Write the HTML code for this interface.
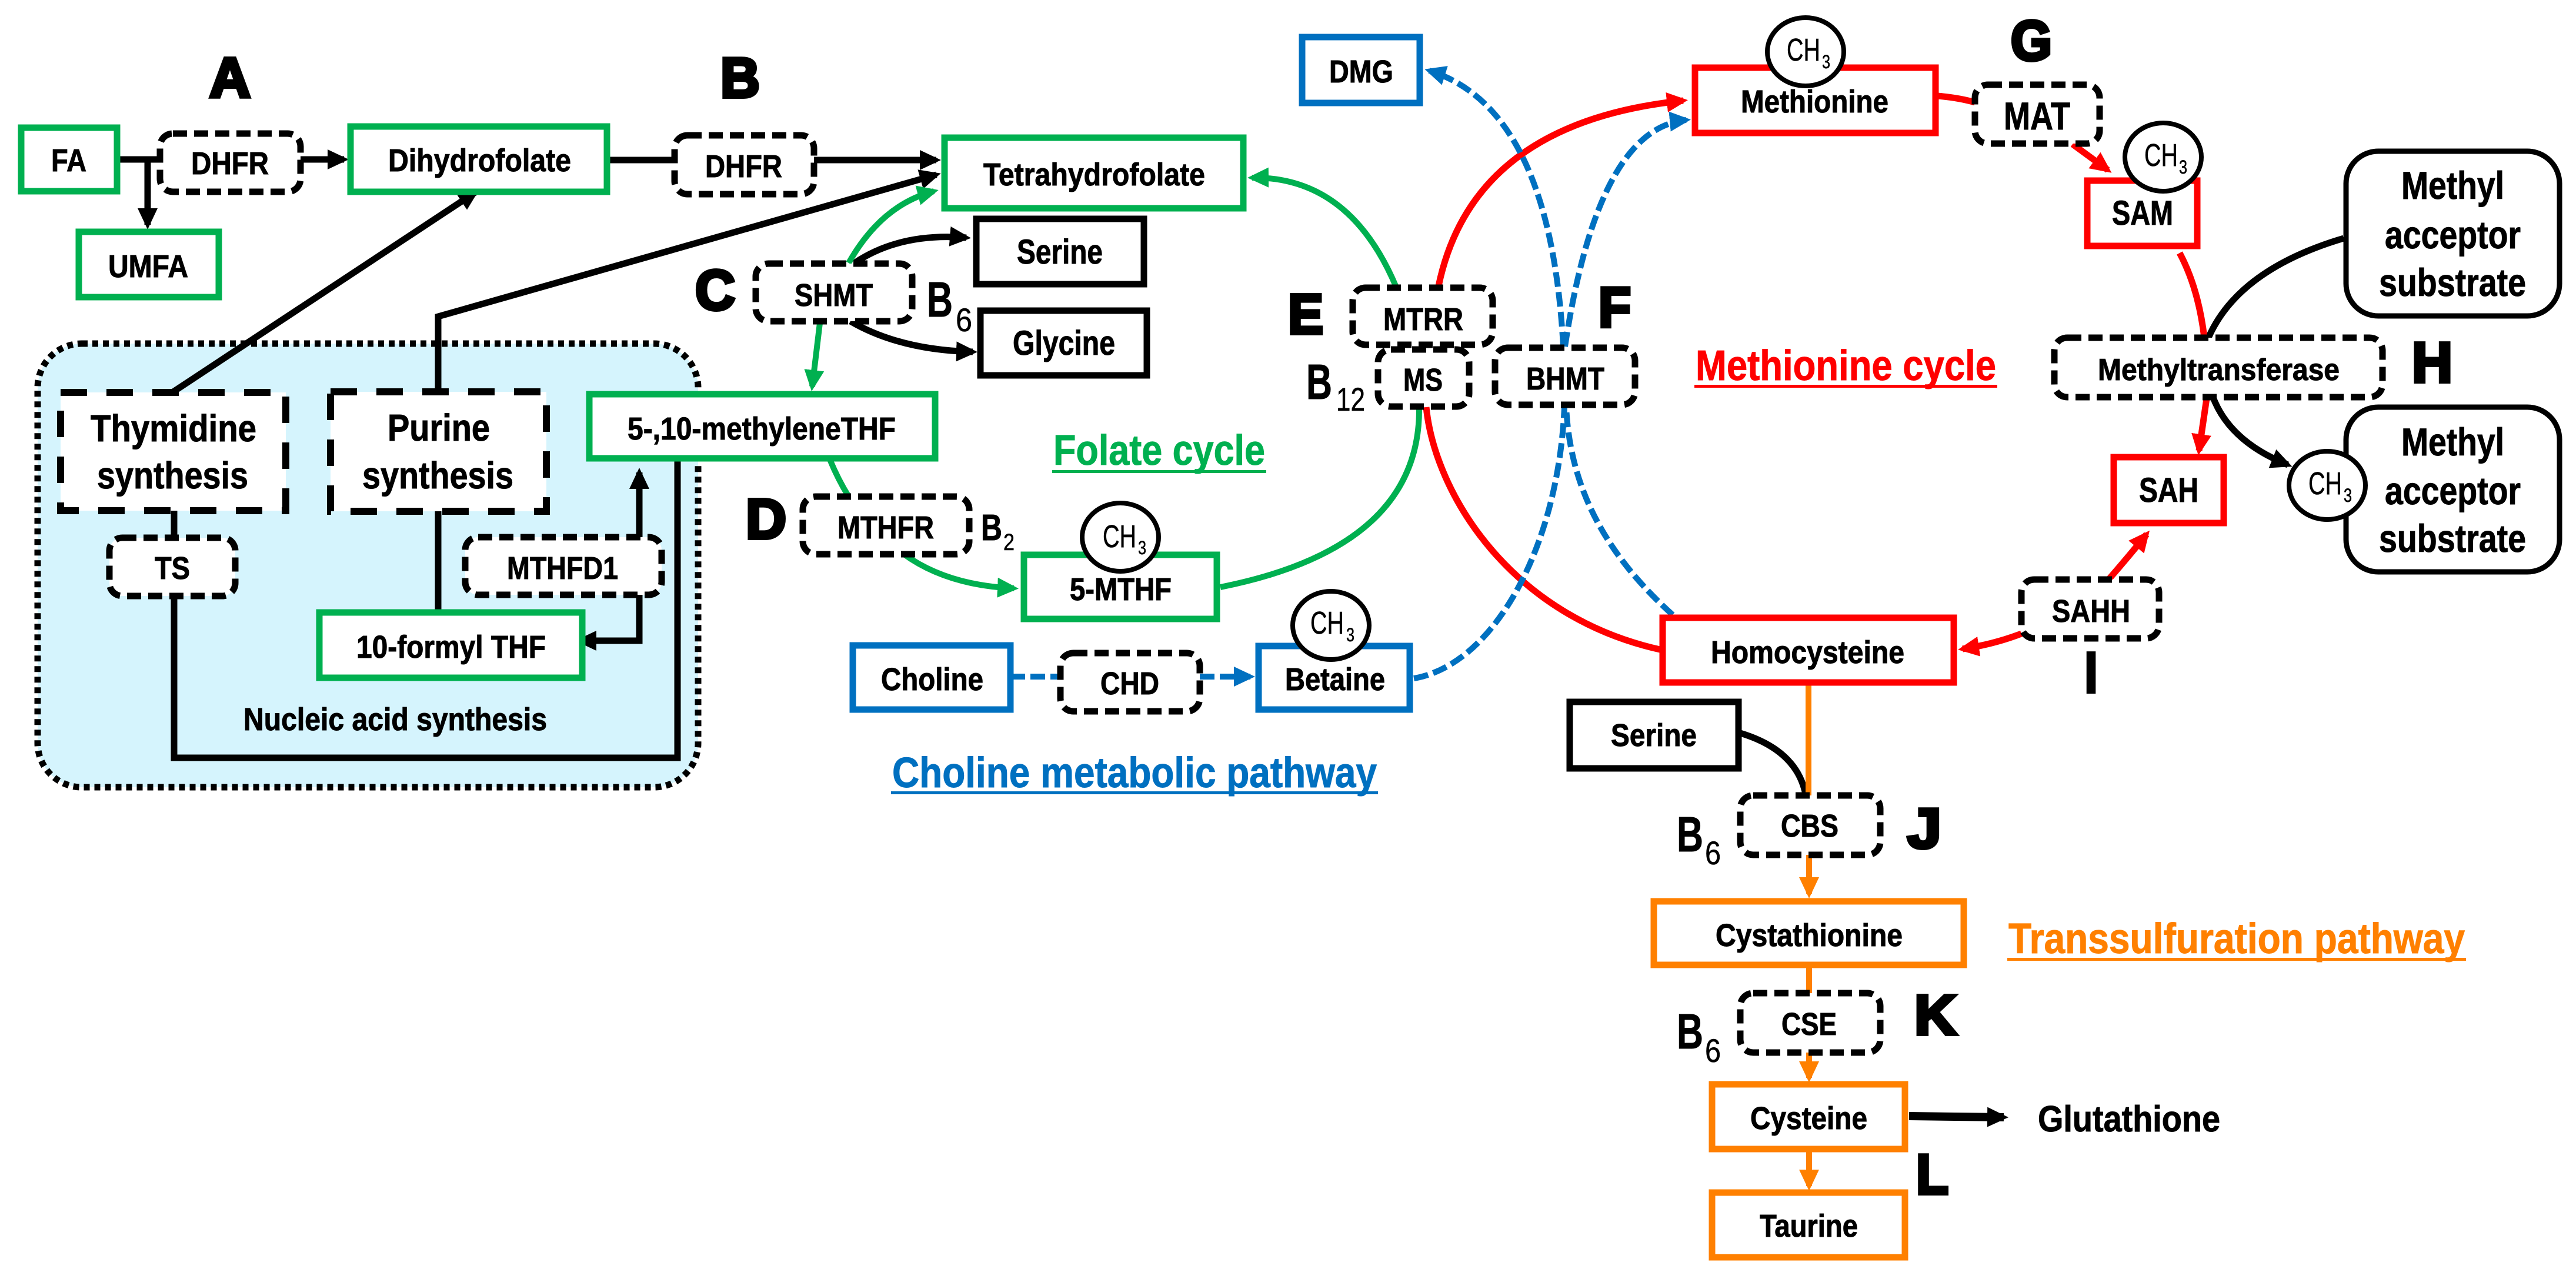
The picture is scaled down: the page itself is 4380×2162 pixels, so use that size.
<!DOCTYPE html>
<html><head><meta charset="utf-8">
<style>
html,body{margin:0;padding:0;background:#fff}
svg{display:block}
text{font-family:"Liberation Sans",sans-serif;font-weight:bold;fill:#000;stroke:#000;stroke-width:1}
text.h{stroke:#000;stroke-width:6px}
text.n{font-weight:normal;stroke-width:.6}
.k{stroke:#000;fill:none;stroke-width:11}
.g{stroke:#00b050;fill:none;stroke-width:10}
.r{stroke:#f00;fill:none;stroke-width:11}
.b{stroke:#0070c0;fill:none;stroke-width:10;stroke-dasharray:25 9}
.o{stroke:#ff8000;fill:none;stroke-width:10}
.bx{fill:#fff;stroke-width:11}
.d{fill:#fff;stroke:#000;stroke-width:11;stroke-dasharray:24 12}
.D{fill:#fff;stroke:#000;stroke-width:12;stroke-dasharray:45 33}
.c{fill:#fff;stroke:#000;stroke-width:8}
</style></head><body>
<svg width="4380" height="2162" viewBox="0 0 4380 2162" xmlns="http://www.w3.org/2000/svg">
<defs>
<marker id="ak" markerUnits="userSpaceOnUse" markerWidth="44" markerHeight="40" refX="28" refY="20" orient="auto"><path d="M0,3L36,20L0,37z" fill="#000"/></marker>
<marker id="ag" markerUnits="userSpaceOnUse" markerWidth="44" markerHeight="40" refX="28" refY="20" orient="auto"><path d="M0,3L36,20L0,37z" fill="#00b050"/></marker>
<marker id="ar" markerUnits="userSpaceOnUse" markerWidth="44" markerHeight="40" refX="28" refY="20" orient="auto"><path d="M0,3L36,20L0,37z" fill="#f00"/></marker>
<marker id="ab" markerUnits="userSpaceOnUse" markerWidth="44" markerHeight="40" refX="28" refY="20" orient="auto"><path d="M0,3L36,20L0,37z" fill="#0070c0"/></marker>
<marker id="ao" markerUnits="userSpaceOnUse" markerWidth="44" markerHeight="40" refX="28" refY="20" orient="auto"><path d="M0,3L36,20L0,37z" fill="#ff8000"/></marker>
</defs>

<!-- region -->
<rect x="64" y="584" width="1123" height="754" rx="75" ry="75" fill="#d5f4fd" stroke="#000" stroke-width="11" stroke-dasharray="10 8"/>

<!-- black connectors -->
<path class="k" d="M198,271H272"/>
<path class="k" d="M251,271V382" marker-end="url(#ak)"/>
<path class="k" d="M511,271H585" marker-end="url(#ak)"/>
<path class="k" d="M1032,272H1147"/>
<path class="k" d="M1384,272H1592" marker-end="url(#ak)"/>
<path class="k" d="M293,667L808,327" marker-end="url(#ak)"/>
<path class="k" d="M745,666V538L1592,297" marker-end="url(#ak)"/>
<path class="k" d="M1453,447Q1530,395 1643,404" marker-end="url(#ak)"/>
<path class="k" d="M1446,546Q1530,595 1654,598" marker-end="url(#ak)"/>
<path class="k" d="M296,868V914"/>
<path class="k" d="M745,869V1041"/>
<path class="k" d="M296,1013V1288H1152V781"/>
<path class="k" d="M1087,913V803" marker-end="url(#ak)"/>
<path class="k" d="M1087,1011V1089H986" marker-end="url(#ak)"/>
<path class="k" d="M3985,405Q3806,458 3755,574"/>
<path class="k" d="M3762,673Q3790,750 3890,790" marker-end="url(#ak)"/>
<path class="k" d="M2959,1246Q3055,1275 3070,1350"/>
<path class="k" style="stroke-width:14" d="M3246,1897L3407,1899" marker-end="url(#ak)"/>

<!-- green -->
<path class="g" d="M1443,447Q1499,348 1588,325" marker-end="url(#ag)"/>
<path class="g" d="M1394,549L1381,657" marker-end="url(#ag)"/>
<path class="g" d="M1411,781Q1425,815 1443,844"/>
<path class="g" d="M1537,942Q1610,995 1724,1000" marker-end="url(#ag)"/>
<path class="g" d="M2075,998Q2416,930 2413,692"/>
<path class="g" d="M2374,488Q2295,300 2129,302" marker-end="url(#ag)"/>

<!-- red -->
<path class="r" d="M2446,486Q2504,208 2862,171" marker-end="url(#ar)"/>
<path class="r" d="M2425,692C2440,840 2570,1050 2827,1105"/>
<path class="r" d="M3294,163Q3330,166 3358,174"/>
<path class="r" d="M3524,245L3584,289" marker-end="url(#ar)"/>
<path class="r" d="M3706,430Q3738,490 3748,574"/>
<path class="r" d="M3752,677L3739,766" marker-end="url(#ar)"/>
<path class="r" d="M3587,983Q3620,945 3650,908" marker-end="url(#ar)"/>
<path class="r" d="M3437,1077Q3390,1095 3337,1103" marker-end="url(#ar)"/>

<!-- blue dashed -->
<path class="b" d="M1718,1150H1803"/>
<path class="b" d="M2040,1150H2126" marker-end="url(#ab)"/>
<path class="b" d="M2404,1153C2540,1130 2650,930 2660,691"/>
<path class="b" d="M2661,589Q2717,218 2867,204" marker-end="url(#ab)"/>
<path class="b" d="M2844,1045C2750,960 2670,850 2663,691"/>
<path class="b" d="M2658,589Q2636,184 2430,120" marker-end="url(#ab)"/>

<!-- orange -->
<path class="o" d="M3075,1161V1352"/>
<path class="o" d="M3076,1452V1519" marker-end="url(#ao)"/>
<path class="o" d="M3076,1640V1688"/>
<path class="o" d="M3076,1789V1832" marker-end="url(#ao)"/>
<path class="o" d="M3076,1953V2016" marker-end="url(#ao)"/>

<!-- green boxes -->
<g stroke="#00b050">
<rect class="bx" x="36" y="217" width="163" height="108"/>
<rect class="bx" x="596" y="215" width="436" height="111"/>
<rect class="bx" x="1606" y="234" width="508" height="120"/>
<rect class="bx" x="134" y="394" width="238" height="111"/>
<rect class="bx" x="1002" y="670" width="588" height="109"/>
<rect class="bx" x="543" y="1041" width="447" height="111"/>
<rect class="bx" x="1741" y="943" width="328" height="109"/>
</g>
<!-- black boxes -->
<g stroke="#000">
<rect class="bx" x="1660" y="372" width="285" height="111"/>
<rect class="bx" x="1667" y="528" width="283" height="110"/>
<rect class="bx" x="2669" y="1193" width="287" height="113"/>
<rect class="bx" style="stroke-width:9" x="3989" y="257" width="363" height="280" rx="55"/>
<rect class="bx" style="stroke-width:9" x="3989" y="692" width="363" height="280" rx="55"/>
</g>
<!-- blue boxes -->
<g stroke="#0070c0">
<rect class="bx" x="1450" y="1097" width="268" height="109"/>
<rect class="bx" x="2140" y="1098" width="257" height="108"/>
<rect class="bx" x="2214" y="63" width="200" height="112"/>
</g>
<!-- red boxes -->
<g stroke="#f00">
<rect class="bx" x="2882" y="115" width="409" height="111"/>
<rect class="bx" x="3549" y="307" width="187" height="111"/>
<rect class="bx" x="3594" y="777" width="187" height="112"/>
<rect class="bx" x="2827" y="1050" width="495" height="110"/>
</g>
<!-- orange boxes -->
<g stroke="#ff8000">
<rect class="bx" x="2812" y="1532" width="527" height="108"/>
<rect class="bx" x="2911" y="1843" width="328" height="110"/>
<rect class="bx" x="2911" y="2027" width="328" height="110"/>
</g>

<!-- dashed boxes -->
<rect class="d" x="272" y="227" width="239" height="99" rx="22"/>
<rect class="d" x="1147" y="230" width="237" height="100" rx="22"/>
<rect class="d" x="1285" y="448" width="266" height="98" rx="22"/>
<rect class="D" x="103" y="667" width="383" height="201"/>
<rect class="D" x="562" y="666" width="367" height="203"/>
<rect class="d" x="186" y="914" width="214" height="99" rx="22"/>
<rect class="d" x="791" y="913" width="334" height="98" rx="22"/>
<rect class="d" x="1365" y="844" width="283" height="98" rx="22"/>
<rect class="d" x="1803" y="1110" width="237" height="99" rx="22"/>
<rect class="d" x="2300" y="489" width="238" height="97" rx="22"/>
<rect class="d" x="2343" y="594" width="155" height="97" rx="22"/>
<rect class="d" x="2542" y="591" width="238" height="97" rx="22"/>
<rect class="d" x="3358" y="144" width="212" height="100" rx="22"/>
<rect class="d" x="3493" y="574" width="558" height="101" rx="22"/>
<rect class="d" x="3437" y="985" width="234" height="100" rx="22"/>
<rect class="d" x="2959" y="1352" width="238" height="101" rx="22"/>
<rect class="d" x="2959" y="1688" width="238" height="101" rx="22"/>

<!-- CH3 circles -->
<ellipse class="c" cx="1905" cy="913" rx="65" ry="58"/>
<ellipse class="c" cx="3070" cy="88" rx="65" ry="58"/>
<ellipse class="c" cx="3678" cy="267" rx="65" ry="58"/>
<ellipse class="c" cx="3957" cy="825" rx="65" ry="58"/>
<ellipse class="c" cx="2263" cy="1063" rx="65" ry="58"/>
<g font-size="54">
<text class="n" x="1875" y="930" textLength="57" lengthAdjust="spacingAndGlyphs">CH</text>
<text class="n" x="1935" y="942" font-size="32" textLength="14" lengthAdjust="spacingAndGlyphs">3</text>
<text class="n" x="3038" y="103" textLength="57" lengthAdjust="spacingAndGlyphs">CH</text>
<text class="n" x="3098" y="116" font-size="32" textLength="14" lengthAdjust="spacingAndGlyphs">3</text>
<text class="n" x="3646" y="282" textLength="57" lengthAdjust="spacingAndGlyphs">CH</text>
<text class="n" x="3705" y="295" font-size="32" textLength="14" lengthAdjust="spacingAndGlyphs">3</text>
<text class="n" x="3925" y="840" textLength="57" lengthAdjust="spacingAndGlyphs">CH</text>
<text class="n" x="3985" y="853" font-size="32" textLength="14" lengthAdjust="spacingAndGlyphs">3</text>
<text class="n" x="2228" y="1077" textLength="57" lengthAdjust="spacingAndGlyphs">CH</text>
<text class="n" x="2289" y="1090" font-size="32" textLength="14" lengthAdjust="spacingAndGlyphs">3</text>
</g>

<!-- node labels -->
<g font-size="54">
<text x="87" y="291" textLength="60" lengthAdjust="spacingAndGlyphs">FA</text>
<text x="325" y="296" textLength="132" lengthAdjust="spacingAndGlyphs">DHFR</text>
<text x="660" y="291" textLength="311" lengthAdjust="spacingAndGlyphs">Dihydrofolate</text>
<text x="184" y="471" textLength="136" lengthAdjust="spacingAndGlyphs">UMFA</text>
<text x="1199" y="301" textLength="131" lengthAdjust="spacingAndGlyphs">DHFR</text>
<text x="1672" y="315" textLength="377" lengthAdjust="spacingAndGlyphs">Tetrahydrofolate</text>
<text x="1729" y="448" font-size="58" textLength="146" lengthAdjust="spacingAndGlyphs">Serine</text>
<text x="1722" y="603" font-size="58" textLength="174" lengthAdjust="spacingAndGlyphs">Glycine</text>
<text x="1351" y="520" textLength="133" lengthAdjust="spacingAndGlyphs">SHMT</text>
<text x="1067" y="747" textLength="456" lengthAdjust="spacingAndGlyphs">5-,10-methyleneTHF</text>
<text x="154" y="750" font-size="64" textLength="282" lengthAdjust="spacingAndGlyphs">Thymidine</text>
<text x="165" y="830" font-size="64" textLength="257" lengthAdjust="spacingAndGlyphs">synthesis</text>
<text x="659" y="749" font-size="64" textLength="174" lengthAdjust="spacingAndGlyphs">Purine</text>
<text x="616" y="830" font-size="64" textLength="257" lengthAdjust="spacingAndGlyphs">synthesis</text>
<text x="263" y="984" textLength="60" lengthAdjust="spacingAndGlyphs">TS</text>
<text x="862" y="984" textLength="189" lengthAdjust="spacingAndGlyphs">MTHFD1</text>
<text x="606" y="1118" textLength="322" lengthAdjust="spacingAndGlyphs">10-formyl THF</text>
<text x="414" y="1241" textLength="516" lengthAdjust="spacingAndGlyphs">Nucleic acid synthesis</text>
<text x="1424" y="915" textLength="164" lengthAdjust="spacingAndGlyphs">MTHFR</text>
<text x="1819" y="1020" textLength="173" lengthAdjust="spacingAndGlyphs">5-MTHF</text>
<text x="1498" y="1173" textLength="174" lengthAdjust="spacingAndGlyphs">Choline</text>
<text x="1871" y="1180" textLength="100" lengthAdjust="spacingAndGlyphs">CHD</text>
<text x="2185" y="1173" textLength="170" lengthAdjust="spacingAndGlyphs">Betaine</text>
<text x="2260" y="140" textLength="109" lengthAdjust="spacingAndGlyphs">DMG</text>
<text x="2960" y="191" textLength="251" lengthAdjust="spacingAndGlyphs">Methionine</text>
<text x="3407" y="220" font-size="66" textLength="113" lengthAdjust="spacingAndGlyphs">MAT</text>
<text x="3591" y="382" font-size="58" textLength="104" lengthAdjust="spacingAndGlyphs">SAM</text>
<text x="3637" y="853" font-size="58" textLength="101" lengthAdjust="spacingAndGlyphs">SAH</text>
<text x="3567" y="646" font-size="52" textLength="411" lengthAdjust="spacingAndGlyphs">Methyltransferase</text>
<text x="2352" y="561" textLength="136" lengthAdjust="spacingAndGlyphs">MTRR</text>
<text x="2386" y="664" textLength="67" lengthAdjust="spacingAndGlyphs">MS</text>
<text x="2595" y="662" textLength="133" lengthAdjust="spacingAndGlyphs">BHMT</text>
<text x="3489" y="1057" textLength="133" lengthAdjust="spacingAndGlyphs">SAHH</text>
<text x="2909" y="1127" textLength="329" lengthAdjust="spacingAndGlyphs">Homocysteine</text>
<text x="2739" y="1268" textLength="146" lengthAdjust="spacingAndGlyphs">Serine</text>
<text x="3028" y="1422" textLength="98" lengthAdjust="spacingAndGlyphs">CBS</text>
<text x="2917" y="1608" textLength="318" lengthAdjust="spacingAndGlyphs">Cystathionine</text>
<text x="3029" y="1759" textLength="94" lengthAdjust="spacingAndGlyphs">CSE</text>
<text x="2976" y="1919" textLength="199" lengthAdjust="spacingAndGlyphs">Cysteine</text>
<text x="2992" y="2102" textLength="167" lengthAdjust="spacingAndGlyphs">Taurine</text>
<text x="3465" y="1923" font-size="62" textLength="310" lengthAdjust="spacingAndGlyphs">Glutathione</text>
</g>
<g font-size="66">
<text x="4083" y="338" textLength="175" lengthAdjust="spacingAndGlyphs">Methyl</text>
<text x="4055" y="422" textLength="231" lengthAdjust="spacingAndGlyphs">acceptor</text>
<text x="4045" y="503" textLength="250" lengthAdjust="spacingAndGlyphs">substrate</text>
<text x="4083" y="774" textLength="175" lengthAdjust="spacingAndGlyphs">Methyl</text>
<text x="4055" y="857" textLength="231" lengthAdjust="spacingAndGlyphs">acceptor</text>
<text x="4045" y="938" textLength="250" lengthAdjust="spacingAndGlyphs">substrate</text>
</g>

<!-- vitamins -->
<text x="1576" y="538" font-size="84" textLength="44" lengthAdjust="spacingAndGlyphs">B</text>
<text class="n" x="1625" y="563" font-size="56" textLength="28" lengthAdjust="spacingAndGlyphs">6</text>
<text x="1668" y="918" font-size="62" textLength="36" lengthAdjust="spacingAndGlyphs">B</text>
<text class="n" x="1706" y="935" font-size="40" textLength="19" lengthAdjust="spacingAndGlyphs">2</text>
<text x="2221" y="678" font-size="84" textLength="44" lengthAdjust="spacingAndGlyphs">B</text>
<text class="n" x="2272" y="698" font-size="56" textLength="49" lengthAdjust="spacingAndGlyphs">12</text>
<text x="2851" y="1447" font-size="84" textLength="45" lengthAdjust="spacingAndGlyphs">B</text>
<text class="n" x="2899" y="1469" font-size="56" textLength="27" lengthAdjust="spacingAndGlyphs">6</text>
<text x="2851" y="1782" font-size="84" textLength="45" lengthAdjust="spacingAndGlyphs">B</text>
<text class="n" x="2899" y="1805" font-size="56" textLength="27" lengthAdjust="spacingAndGlyphs">6</text>

<!-- pathway titles -->
<g font-size="72">
<text x="1791" y="790" style="fill:#00b050;stroke:#00b050" textLength="360" lengthAdjust="spacingAndGlyphs">Folate cycle</text>
<rect x="1789" y="799" width="364" height="5" fill="#00b050"/>
<text x="1517" y="1338" style="fill:#0070c0;stroke:#0070c0" textLength="824" lengthAdjust="spacingAndGlyphs">Choline metabolic pathway</text>
<rect x="1515" y="1345" width="828" height="5" fill="#0070c0"/>
<text x="2883" y="646" style="fill:#f00;stroke:#f00" textLength="511" lengthAdjust="spacingAndGlyphs">Methionine cycle</text>
<rect x="2881" y="654" width="515" height="5" fill="#f00"/>
<text x="3415" y="1620" style="fill:#ff8000;stroke:#ff8000" textLength="776" lengthAdjust="spacingAndGlyphs">Transsulfuration pathway</text>
<rect x="3413" y="1628" width="780" height="5" fill="#ff8000"/>
</g>

<!-- panel letters -->
<g font-size="96">
<text class="h" x="356" y="165" textLength="70" lengthAdjust="spacingAndGlyphs">A</text>
<text class="h" x="1225" y="165" textLength="67" lengthAdjust="spacingAndGlyphs">B</text>
<text class="h" x="1182" y="526" textLength="68" lengthAdjust="spacingAndGlyphs">C</text>
<text class="h" x="1268" y="915" textLength="69" lengthAdjust="spacingAndGlyphs">D</text>
<text class="h" x="2190" y="567" textLength="60" lengthAdjust="spacingAndGlyphs">E</text>
<text class="h" x="2718" y="555" textLength="55" lengthAdjust="spacingAndGlyphs">F</text>
<text class="h" x="3419" y="102" textLength="70" lengthAdjust="spacingAndGlyphs">G</text>
<text class="h" x="4101" y="649" textLength="69" lengthAdjust="spacingAndGlyphs">H</text>
<text class="h" x="3545" y="1176" textLength="21" lengthAdjust="spacingAndGlyphs">I</text>
<text class="h" x="3243" y="1441" textLength="58" lengthAdjust="spacingAndGlyphs">J</text>
<text class="h" x="3255" y="1758" textLength="72" lengthAdjust="spacingAndGlyphs">K</text>
<text class="h" x="3258" y="2029" textLength="55" lengthAdjust="spacingAndGlyphs">L</text>
</g>
</svg>
</body></html>
